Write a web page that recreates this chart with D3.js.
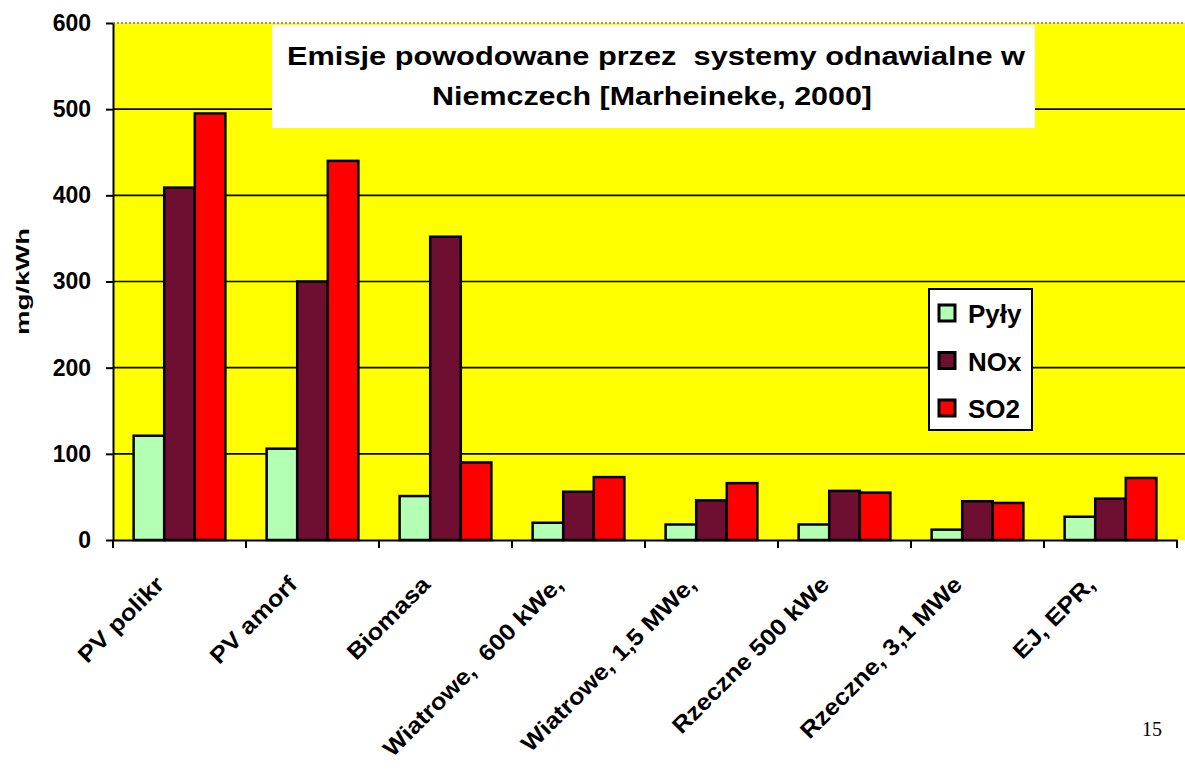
<!DOCTYPE html>
<html>
<head>
<meta charset="utf-8">
<script src="https://cdn.jsdelivr.net/npm/d3@7"></script>
<style>
  html, body { margin: 0; padding: 0; background: #fff; }
  svg { display: block; }
</style>
</head>
<body>
<svg id="chart" width="1185" height="784"></svg>
<script>
const categories = ["PV polikr", "PV amorf", "Biomasa", "Wiatrowe,  600 kWe,", "Wiatrowe, 1,5 MWe,", "Rzeczne 500 kWe", "Rzeczne, 3,1 MWe", "EJ, EPR,"];
const seriesNames = ["Pyły", "NOx", "SO2"];
const pyly = [121, 106, 51, 20, 18, 18, 12, 27];
const nox  = [409, 300, 352, 56, 46, 57, 45, 48];
const so2  = [495, 440, 90, 73, 66, 55, 43, 72];
const yTicks = [0, 100, 200, 300, 400, 500, 600];
const titleLines = ["Emisje powodowane przez  systemy odnawialne w", "Niemczech [Marheineke, 2000]"];
const yTitle = "mg/kWh";
const pageNumber = "15";
const colors = ["#b3ffb3", "#6e0f32", "#ff0000"];

const SANS = "'Liberation Sans', Arial, Helvetica, sans-serif";
const SERIF = "'Liberation Serif', 'Times New Roman', serif";
const seriesValues = [pyly, nox, so2];
const svg = d3.select("#chart");

const plot = { left: 113, right: 1177, top: 23, bottom: 540 };

const x0 = d3.scaleBand().domain(categories).range([plot.left, plot.right]).padding(0);
const x1 = d3.scaleBand().domain(seriesNames).range([0, x0.bandwidth() * 0.69]).padding(0);
const y = d3.scaleLinear().domain([0, 600]).range([plot.bottom, plot.top]);

// plot background
svg.append("rect")
  .attr("x", plot.left).attr("y", plot.top)
  .attr("width", 1185 - plot.left).attr("height", plot.bottom - plot.top)
  .attr("fill", "#ffff00");

// top border dotted
svg.append("line")
  .attr("x1", plot.left).attr("x2", 1185)
  .attr("y1", y(600)).attr("y2", y(600))
  .attr("stroke", "#777").attr("stroke-width", 1.5).attr("stroke-dasharray", "2,2");

// gridlines
svg.append("g").selectAll("line")
  .data(yTicks.filter(t => t > 0 && t < 600))
  .join("line")
  .attr("x1", plot.left).attr("x2", 1185)
  .attr("y1", d => y(d)).attr("y2", d => y(d))
  .attr("stroke", "#000").attr("stroke-width", 1.6);

// title box
svg.append("rect")
  .attr("x", 272).attr("y", 25).attr("width", 763).attr("height", 103)
  .attr("fill", "#fff");
svg.append("text")
  .attr("x", 656).attr("y", 65).attr("text-anchor", "middle")
  .style("font-family", SANS).style("font-size", "25px").style("font-weight", "bold")
  .style("white-space", "pre")
  .attr("textLength", 738).attr("lengthAdjust", "spacingAndGlyphs")
  .text(titleLines[0]);
svg.append("text")
  .attr("x", 652).attr("y", 105).attr("text-anchor", "middle")
  .style("font-family", SANS).style("font-size", "25px").style("font-weight", "bold")
  .attr("textLength", 440).attr("lengthAdjust", "spacingAndGlyphs")
  .text(titleLines[1]);

// bars
const groups = svg.append("g").selectAll("g")
  .data(categories.map((c, i) => ({ c, i })))
  .join("g")
  .attr("transform", d => `translate(${x0(d.c) + (x0.bandwidth() - x1.range()[1]) / 2},0)`);

groups.selectAll("rect")
  .data(d => seriesNames.map((s, j) => ({ s, j, v: seriesValues[j][d.i] })))
  .join("rect")
  .attr("x", d => x1(d.s))
  .attr("y", d => y(d.v))
  .attr("width", x1.bandwidth())
  .attr("height", d => y(0) - y(d.v))
  .attr("fill", d => colors[d.j])
  .attr("stroke", "#000")
  .attr("stroke-width", 2.5);

// y axis
const yAxis = svg.append("g")
  .attr("transform", `translate(${plot.left},0)`)
  .call(d3.axisLeft(y).tickValues(yTicks).tickSize(7).tickPadding(15).tickSizeOuter(0));
yAxis.select(".domain").attr("stroke", "#000").attr("stroke-width", 2);
yAxis.selectAll(".tick line").attr("stroke", "#000").attr("stroke-width", 2);
yAxis.selectAll(".tick text")
  .attr("fill", "#000")
  .style("font-family", SANS).style("font-size", "23px").style("font-weight", "bold");

// x axis
const xAxis = svg.append("g")
  .attr("transform", `translate(0,${plot.bottom})`)
  .call(d3.axisBottom(x0).tickSize(0).tickFormat(""));
xAxis.select(".domain").attr("stroke", "#000").attr("stroke-width", 2);
// category boundary ticks
const boundaries = categories.map(c => x0(c)).concat([x0.range()[1]]);
svg.append("g").selectAll("line")
  .data(boundaries)
  .join("line")
  .attr("x1", d => d).attr("x2", d => d)
  .attr("y1", plot.bottom).attr("y2", plot.bottom + 8)
  .attr("stroke", "#000").attr("stroke-width", 2);

// x labels
svg.append("g").selectAll("text")
  .data(categories)
  .join("text")
  .attr("transform", d => `translate(${x0(d) + x0.bandwidth() / 2 - 14},${plot.bottom + 46}) rotate(-45) scale(1.11,1)`)
  .attr("text-anchor", "end")
  .style("font-family", SANS).style("font-size", "23px").style("font-weight", "bold")
  .style("white-space", "pre")
  .text(d => d);

// y title
svg.append("text")
  .attr("transform", `translate(29,${(y(600) + y(0)) / 2}) rotate(-90) scale(1.45,1)`)
  .attr("text-anchor", "middle")
  .style("font-family", SANS).style("font-size", "19px").style("font-weight", "bold")
  .text(yTitle);

// legend
const legend = svg.append("g");
legend.append("rect")
  .attr("x", 929).attr("y", 289).attr("width", 103).attr("height", 141)
  .attr("fill", "#fff").attr("stroke", "#000").attr("stroke-width", 2);
const li = legend.selectAll("g.item")
  .data(seriesNames)
  .join("g").attr("class", "item")
  .attr("transform", (d, i) => `translate(939,${313 + i * 47.5})`);
li.append("rect")
  .attr("x", 0).attr("y", -8).attr("width", 16).attr("height", 16)
  .attr("fill", (d, i) => colors[i]).attr("stroke", "#000").attr("stroke-width", 3);
li.append("text")
  .attr("x", 29).attr("y", 10)
  .style("font-family", SANS).style("font-size", "26px").style("font-weight", "bold")
  .text(d => d);

// page number
svg.append("text")
  .attr("x", 1162).attr("y", 736).attr("text-anchor", "end")
  .style("font-family", SERIF).style("font-size", "20px")
  .text(pageNumber);
</script>
</body>
</html>
